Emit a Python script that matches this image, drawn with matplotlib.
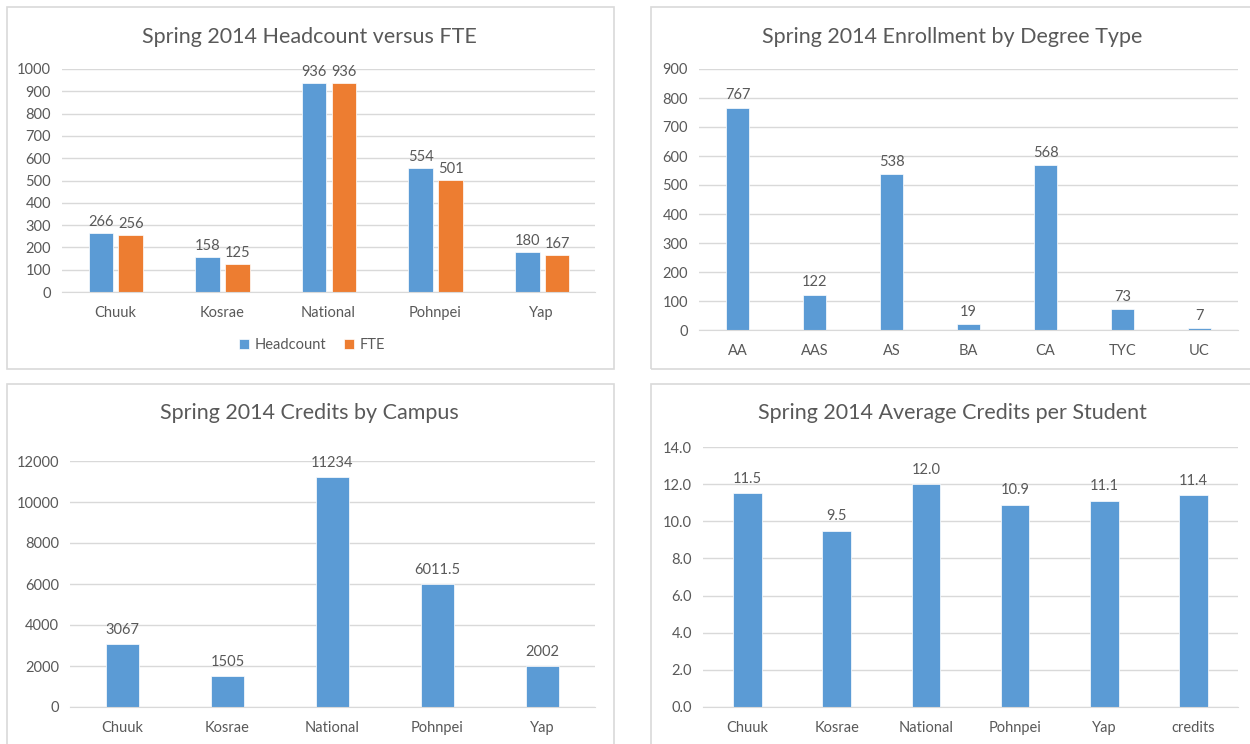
import numpy as np
import matplotlib
matplotlib.use('Agg')
import matplotlib.pyplot as plt
from matplotlib.patches import Rectangle

plt.rcParams['font.family'] = ['Lato', 'DejaVu Sans']

# data
campuses = ['Chuuk', 'Kosrae', 'National', 'Pohnpei', 'Yap']
headcount = [266, 158, 936, 554, 180]
fte = [256, 125, 936, 501, 167]

degrees = ['AA', 'AAS', 'AS', 'BA', 'CA', 'TYC', 'UC']
enrollment = [767, 122, 538, 19, 568, 73, 7]

credits = [3067, 1505, 11234, 6011.5, 2002]
credit_labels = ['3067', '1505', '11234', '6011.5', '2002']

avg_cats = ['Chuuk', 'Kosrae', 'National', 'Pohnpei', 'Yap', 'credits']
avg_credits = [11.5, 9.5, 12.0, 10.9, 11.1, 11.4]

BLUE = '#5B9BD5'
ORANGE = '#ED7D31'
TEXT = '#595959'
GRID = '#D9D9D9'
FS = 10.5

W, H = 1250, 744
fig = plt.figure(figsize=(W / 100, H / 100), dpi=100)


def px_axes(x0, x1, y0, y1):
    # pixel box (top-left origin) -> figure axes
    return fig.add_axes([x0 / W, 1 - y1 / H, (x1 - x0) / W, (y1 - y0) / H])


def frame(x0, y0, x1, y1):
    fig.patches.append(Rectangle((x0 / W, 1 - y1 / H), (x1 - x0) / W, (y1 - y0) / H,
                                 transform=fig.transFigure, fill=False,
                                 edgecolor=GRID, linewidth=1.2))


def style(ax, ymax, step, fmt):
    ax.set_ylim(0, ymax)
    ticks = np.arange(0, ymax + step / 2, step)
    ax.set_yticks(ticks)
    ax.set_yticklabels([fmt.format(t) for t in ticks])
    ax.grid(axis='y', color=GRID, linewidth=1)
    ax.set_axisbelow(True)
    for s in ['top', 'right', 'left']:
        ax.spines[s].set_visible(False)
    ax.spines['bottom'].set_color(GRID)
    ax.tick_params(axis='both', length=0, colors=TEXT, labelsize=FS)
    ax.tick_params(axis='x', pad=10)
    ax.tick_params(axis='y', pad=8)


def labels(ax, xs, vals, texts, off):
    for x, v, t in zip(xs, vals, texts):
        ax.text(x, v + off, t, ha='center', va='bottom', color=TEXT, fontsize=FS)


# panel 1
frame(7, 7, 614, 369)
ax1 = px_axes(62, 595, 69, 292)
x = np.arange(len(campuses))
ax1.bar(x - 0.135, headcount, 0.23, color=BLUE, edgecolor='white', linewidth=0.5, label='Headcount')
ax1.bar(x + 0.145, fte, 0.23, color=ORANGE, edgecolor='white', linewidth=0.5, label='FTE')
ax1.set_xlim(-0.5, len(campuses) - 0.5)
ax1.set_xticks(x)
ax1.set_xticklabels(campuses)
style(ax1, 1000, 100, '{:.0f}')
labels(ax1, x - 0.135, headcount, [str(v) for v in headcount], 18)
labels(ax1, x + 0.145, fte, [str(v) for v in fte], 18)
fig.text(309 / W, 1 - 37 / H, 'Spring 2014 Headcount versus FTE', ha='center', va='center',
         color=TEXT, fontsize=15.5)
fig.legend(handles=ax1.get_legend_handles_labels()[0], loc='center',
           bbox_to_anchor=(312 / W, 1 - 345 / H), ncol=2, frameon=False,
           fontsize=FS, labelcolor=TEXT, handlelength=0.7, handleheight=0.7,
           handletextpad=0.4, columnspacing=1.2)

# panel 2
frame(651, 7, 1252, 369)
ax2 = px_axes(699, 1238, 69, 330)
x2 = np.arange(len(degrees))
ax2.bar(x2, enrollment, 0.31, color=BLUE, edgecolor='white', linewidth=0.5)
ax2.set_xlim(-0.5, len(degrees) - 0.5)
ax2.set_xticks(x2)
ax2.set_xticklabels(degrees)
style(ax2, 900, 100, '{:.0f}')
labels(ax2, x2, enrollment, [str(v) for v in enrollment], 18)
fig.text(952 / W, 1 - 37 / H, 'Spring 2014 Enrollment by Degree Type', ha='center', va='center',
         color=TEXT, fontsize=15.5)

# panel 3
frame(7, 384, 614, 746)
ax3 = px_axes(70, 595, 461, 707)
ax3.bar(x, credits, 0.31, color=BLUE, edgecolor='white', linewidth=0.5)
ax3.set_xlim(-0.5, len(campuses) - 0.5)
ax3.set_xticks(x)
ax3.set_xticklabels(campuses)
style(ax3, 12000, 2000, '{:.0f}')
labels(ax3, x, credits, credit_labels, 350)
fig.text(309 / W, 1 - 413 / H, 'Spring 2014 Credits by Campus', ha='center', va='center',
         color=TEXT, fontsize=15.5)

# panel 4
frame(651, 384, 1252, 746)
ax4 = px_axes(703, 1238, 447, 707)
x4 = np.arange(len(avg_cats))
ax4.bar(x4, avg_credits, 0.32, color=BLUE, edgecolor='white', linewidth=0.5)
ax4.set_xlim(-0.5, len(avg_cats) - 0.5)
ax4.set_xticks(x4)
ax4.set_xticklabels(avg_cats)
style(ax4, 14, 2, '{:.1f}')
labels(ax4, x4, avg_credits, ['{:.1f}'.format(v) for v in avg_credits], 0.4)
fig.text(952 / W, 1 - 413 / H, 'Spring 2014 Average Credits per Student', ha='center', va='center',
         color=TEXT, fontsize=15.5)

fig.savefig('out.png', dpi=100, facecolor='white')
